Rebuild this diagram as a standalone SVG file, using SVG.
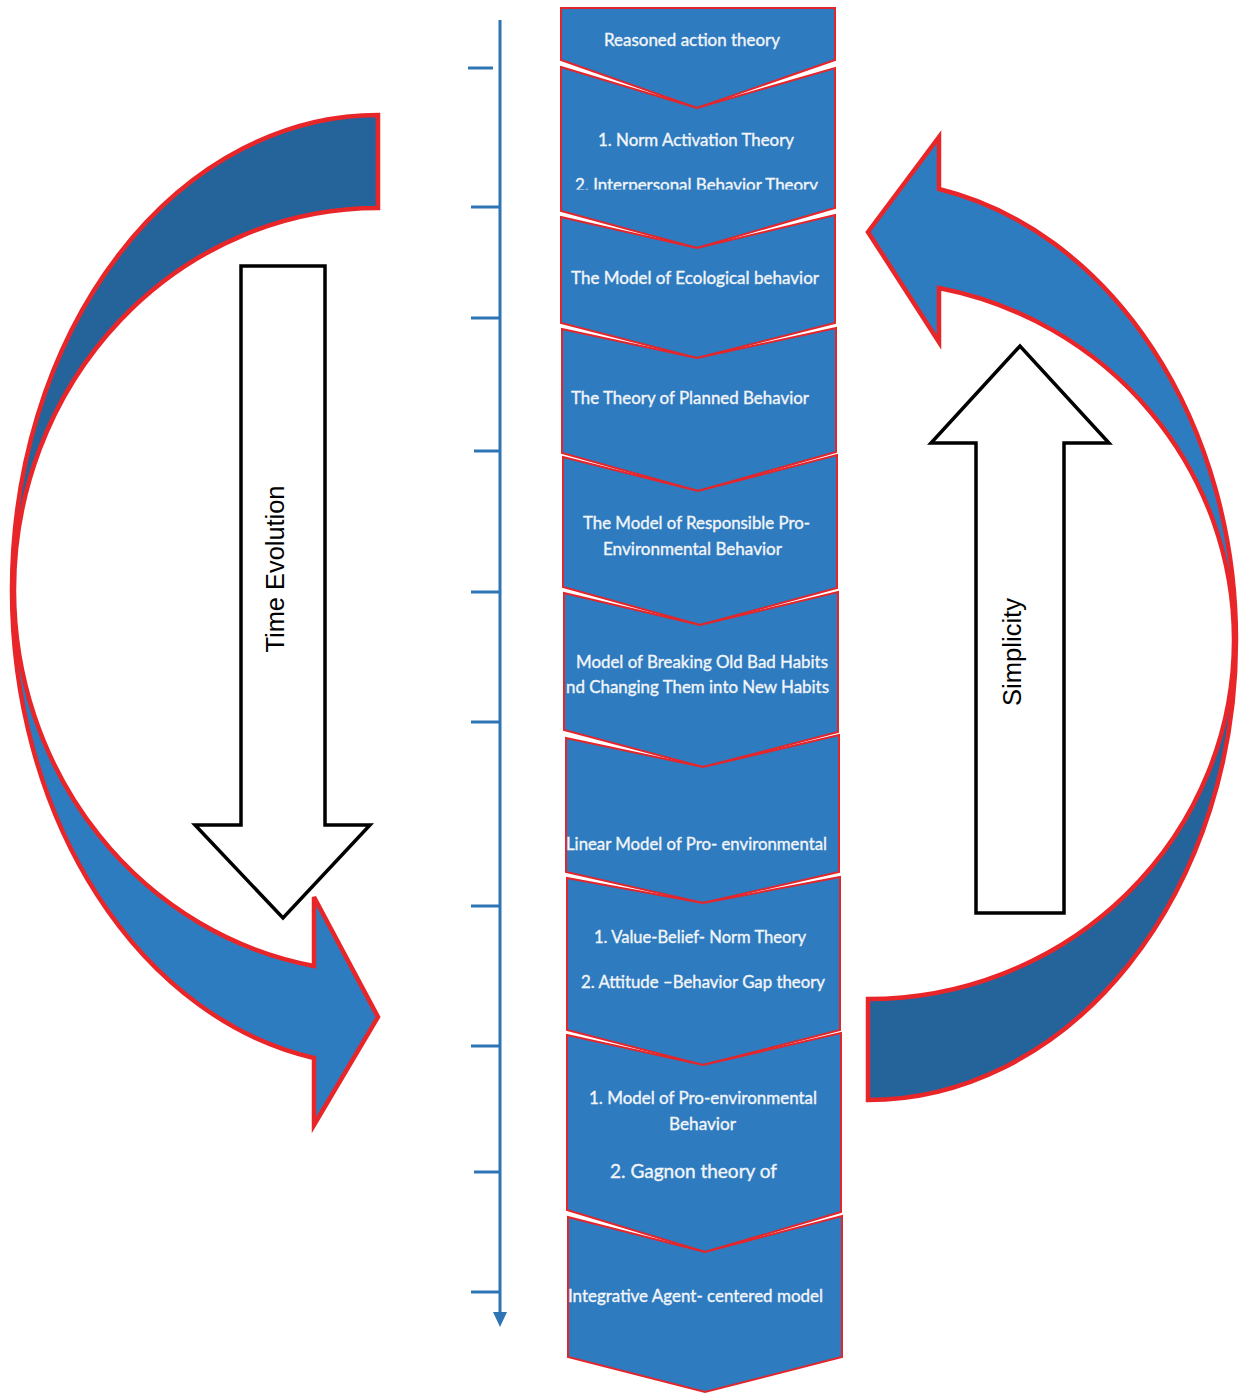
<svg xmlns="http://www.w3.org/2000/svg" width="1239" height="1395" viewBox="0 0 1239 1395">
  <defs>
    <style>
      .chev { fill: #2e7bbf; stroke: #e3262b; stroke-width: 2; stroke-linejoin: miter; }
      .lbl { font-family: Lato, "Liberation Sans", sans-serif; font-size: 16.5px; fill: #f2f5f9; stroke: #f2f5f9; stroke-width: 0.35; }
      .dark { fill: #24649b; stroke: none; }
      .light { fill: #2e7cc0; stroke: none; }
      .rim { fill: none; stroke: #e8262a; stroke-width: 4.5; stroke-linejoin: miter; }
      .hollow { fill: #ffffff; stroke: #000000; stroke-width: 3.5; stroke-linejoin: miter; }
      .axis { stroke: #2e75b6; stroke-width: 3; fill: none; }
      .big { font-family: "Liberation Sans", Arial, sans-serif; font-size: 25px; fill: #000000; }
    </style>
    <clipPath id="clip-c2">
      <rect x="555" y="110" width="290" height="79.5"/>
    </clipPath>
  </defs>
  <rect width="1239" height="1395" fill="#ffffff"/>

  <!-- timeline axis with ticks -->
  <g id="connectors">
    <g id="timeline">
      <line class="axis" x1="500" y1="20" x2="500" y2="1313"/>
      <polygon points="493,1312 507,1312 500,1327" fill="#2e75b6"/>
      <line class="axis" x1="468" y1="68" x2="493" y2="68"/>
      <line class="axis" x1="471" y1="207" x2="499" y2="207"/>
      <line class="axis" x1="471" y1="318" x2="499" y2="318"/>
      <line class="axis" x1="474" y1="451" x2="499" y2="451"/>
      <line class="axis" x1="471" y1="592" x2="499" y2="592"/>
      <line class="axis" x1="471" y1="722" x2="499" y2="722"/>
      <line class="axis" x1="471" y1="906" x2="499" y2="906"/>
      <line class="axis" x1="471" y1="1046" x2="499" y2="1046"/>
      <line class="axis" x1="474" y1="1172" x2="499" y2="1172"/>
      <line class="axis" x1="471" y1="1292" x2="499" y2="1292"/>
    </g>
  </g>

  <!-- left curved arrow (down) -->
  <g id="left-cycle-arrow">
    <path class="dark" d="M378,115 A366,475 0 0 0 12,590 L14,590 A364,382 0 0 1 378,208 Z"/>
    <path class="light" d="M12,590 A366,475 0 0 0 314,1058 L314,1125 L378,1017 L314,897 L314,966 A364,382 0 0 1 14,590 Z"/>
    <path class="rim" d="M378,115 A366,475 0 0 0 12,590 A366,475 0 0 0 314,1058 L314,1125 L378,1017 L314,897 L314,966 A364,382 0 0 1 14,590 A364,382 0 0 1 378,208 Z"/>
  </g>

  <!-- right curved arrow (up) -->
  <g id="right-cycle-arrow">
    <path class="light" d="M939,189 A368,460 0 0 1 1236,640 L1234,640 A366,359 0 0 0 939,288 L939,342 L868,232 L939,137 Z"/>
    <path class="dark" d="M1236,640 A368,460 0 0 1 868,1100 L868,999 A366,359 0 0 0 1234,640 Z"/>
    <path class="rim" d="M939,137 L939,189 A368,460 0 0 1 1236,640 A368,460 0 0 1 868,1100 L868,999 A366,359 0 0 0 1234,640 A366,359 0 0 0 939,288 L939,342 L868,232 Z"/>
  </g>

  <!-- Time Evolution block arrow -->
  <g id="time-evolution">
    <polygon class="hollow" points="241,266 325,266 325,825 370,825 283,918 195,825 241,825"/>
    <text class="big" transform="translate(284,569) rotate(-90)" text-anchor="middle" textLength="167" lengthAdjust="spacingAndGlyphs">Time Evolution</text>
  </g>

  <!-- Simplicity block arrow -->
  <g id="simplicity">
    <polygon class="hollow" points="976,913 1064,913 1064,443 1109,443 1020,346 931,443 976,443"/>
    <text class="big" transform="translate(1021,652) rotate(-90)" text-anchor="middle" textLength="108" lengthAdjust="spacingAndGlyphs">Simplicity</text>
  </g>

  <!-- chevron sequence of theories -->
  <g id="chevron-1">
    <polygon class="chev" points="561,8 835,8 835,60 697,108 561,60"/>
    <text class="lbl" x="604" y="46" textLength="176" lengthAdjust="spacingAndGlyphs">Reasoned action theory</text>
  </g>
  <g id="chevron-2">
    <polygon class="chev" points="561,67 697,108 835,68 835,208 697,248 561,211"/>
    <text class="lbl" x="598" y="146" textLength="196" lengthAdjust="spacingAndGlyphs">1. Norm Activation Theory</text>
    <text class="lbl" x="575" y="191" textLength="243" lengthAdjust="spacingAndGlyphs" clip-path="url(#clip-c2)">2. Interpersonal Behavior Theory</text>
  </g>
  <g id="chevron-3">
    <polygon class="chev" points="561,217 697,248 835,215 835,323 697,358 561,323"/>
    <text class="lbl" x="571" y="284" textLength="248" lengthAdjust="spacingAndGlyphs">The Model of Ecological behavior</text>
  </g>
  <g id="chevron-4">
    <polygon class="chev" points="562,329 697,358 836,328 836,452 698,491 562,453"/>
    <text class="lbl" x="571" y="404" textLength="238" lengthAdjust="spacingAndGlyphs">The Theory of Planned Behavior</text>
  </g>
  <g id="chevron-5">
    <polygon class="chev" points="563,457 698,491 837,455 837,588 700,625 563,587"/>
    <text class="lbl" x="583" y="529" textLength="227" lengthAdjust="spacingAndGlyphs">The Model of Responsible Pro-</text>
    <text class="lbl" x="603" y="555" textLength="179" lengthAdjust="spacingAndGlyphs">Environmental Behavior</text>
  </g>
  <g id="chevron-6">
    <polygon class="chev" points="564,593 700,625 838,592 838,732 703,767 564,730"/>
    <text class="lbl" x="576" y="668" textLength="252" lengthAdjust="spacingAndGlyphs">Model of Breaking Old Bad Habits</text>
    <text class="lbl" x="566" y="693" textLength="263" lengthAdjust="spacingAndGlyphs">nd Changing Them into New Habits</text>
  </g>
  <g id="chevron-7">
    <polygon class="chev" points="566,738 703,767 839,735 839,872 703,903 566,872"/>
    <text class="lbl" x="566" y="850" textLength="261" lengthAdjust="spacingAndGlyphs">Linear Model of Pro- environmental</text>
  </g>
  <g id="chevron-8">
    <polygon class="chev" points="567,878 703,903 840,877 840,1030 703,1065 567,1030"/>
    <text class="lbl" x="594" y="943" textLength="212" lengthAdjust="spacingAndGlyphs">1. Value-Belief- Norm Theory</text>
    <text class="lbl" x="581" y="988" textLength="244" lengthAdjust="spacingAndGlyphs">2. Attitude –Behavior Gap theory</text>
  </g>
  <g id="chevron-9">
    <polygon class="chev" points="567,1035 703,1065 841,1033 841,1212 705,1252 567,1210"/>
    <text class="lbl" x="589" y="1104" textLength="228" lengthAdjust="spacingAndGlyphs">1. Model of Pro-environmental</text>
    <text class="lbl" x="669" y="1130" textLength="67" lengthAdjust="spacingAndGlyphs">Behavior</text>
    <text class="lbl" x="610" y="1178" textLength="167" lengthAdjust="spacingAndGlyphs" style="font-size:19px">2. Gagnon theory of</text>
  </g>
  <g id="chevron-10">
    <polygon class="chev" points="568,1217 705,1252 842,1216 842,1357 705,1392 568,1357"/>
    <text class="lbl" x="568" y="1302" textLength="255" lengthAdjust="spacingAndGlyphs">Integrative Agent- centered model</text>
  </g>
</svg>
